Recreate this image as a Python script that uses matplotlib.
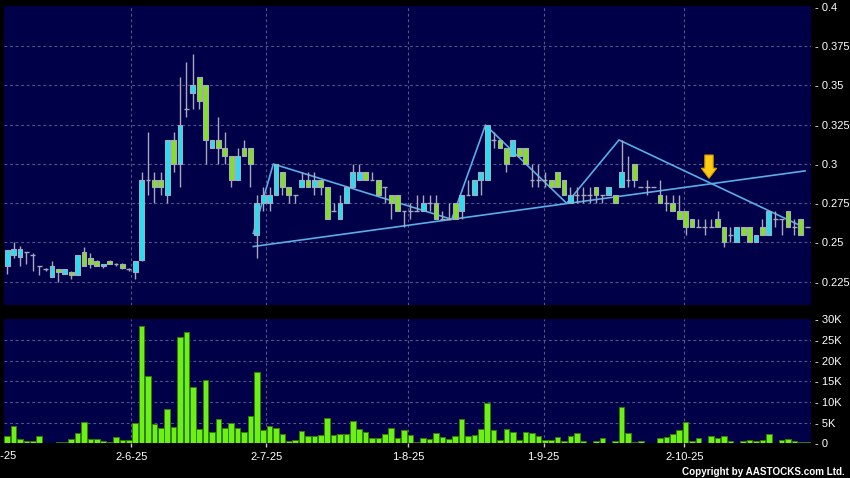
import matplotlib
matplotlib.use('Agg')
import matplotlib.pyplot as plt
from matplotlib.patches import FancyArrow
import numpy as np

# ---------------- data ----------------
opens = [0.235, 0.242, 0.241, 0.244, 0.242, 0.235, 0.233, 0.228, 0.233, 0.230,
         0.231, 0.229, 0.244, 0.240, 0.238, 0.235, 0.238, 0.236, 0.236, 0.233,
         0.231, 0.239, 0.290, 0.290, 0.290, 0.280, 0.315, 0.300, 0.335, 0.345,
         0.355, 0.350, 0.310, 0.315, 0.310, 0.305, 0.290, 0.310, 0.310, 0.255,
         0.275, 0.275, 0.280, 0.295, 0.285, 0.280, 0.285, 0.290, 0.285, 0.290,
         0.285, 0.270, 0.265, 0.275, 0.285, 0.290, 0.295, 0.290, 0.290, 0.285,
         0.280, 0.280, 0.270, 0.270, 0.270, 0.270, 0.275, 0.275, 0.265, 0.265,
         0.275, 0.270, 0.280, 0.280, 0.290, 0.290, 0.315, 0.315, 0.310, 0.305,
         0.310, 0.310, 0.290, 0.290, 0.290, 0.290, 0.295, 0.290, 0.275, 0.280,
         0.280, 0.280, 0.285, 0.280, 0.280, 0.280, 0.285, 0.290, 0.300, 0.285,
         0.285, 0.285, 0.280, 0.275, 0.275, 0.270, 0.270, 0.265, 0.260, 0.260,
         0.260, 0.265, 0.260, 0.255, 0.250, 0.260, 0.260, 0.250, 0.260, 0.255,
         0.265, 0.265, 0.270, 0.260, 0.265, 0.260]
highs = [0.245, 0.250, 0.248, 0.244, 0.243, 0.235, 0.234, 0.238, 0.233, 0.233,
         0.232, 0.242, 0.247, 0.243, 0.239, 0.236, 0.239, 0.237, 0.237, 0.234,
         0.238, 0.295, 0.320, 0.295, 0.295, 0.315, 0.320, 0.355, 0.365, 0.370,
         0.355, 0.350, 0.315, 0.330, 0.320, 0.305, 0.310, 0.315, 0.310, 0.280,
         0.285, 0.285, 0.300, 0.295, 0.285, 0.280, 0.295, 0.295, 0.295, 0.290,
         0.285, 0.275, 0.280, 0.285, 0.300, 0.300, 0.295, 0.295, 0.290, 0.285,
         0.280, 0.280, 0.270, 0.275, 0.280, 0.280, 0.280, 0.280, 0.270, 0.275,
         0.275, 0.280, 0.290, 0.290, 0.295, 0.325, 0.320, 0.315, 0.310, 0.315,
         0.310, 0.310, 0.300, 0.300, 0.295, 0.290, 0.295, 0.290, 0.285, 0.285,
         0.285, 0.285, 0.285, 0.280, 0.285, 0.280, 0.315, 0.305, 0.300, 0.285,
         0.290, 0.285, 0.290, 0.280, 0.280, 0.280, 0.270, 0.265, 0.265, 0.265,
         0.265, 0.270, 0.260, 0.260, 0.260, 0.260, 0.260, 0.255, 0.265, 0.270,
         0.270, 0.265, 0.270, 0.265, 0.265, 0.260]
lows = [0.230, 0.240, 0.235, 0.236, 0.232, 0.229, 0.232, 0.228, 0.225, 0.230,
        0.227, 0.229, 0.235, 0.234, 0.235, 0.234, 0.236, 0.235, 0.233, 0.232,
        0.227, 0.238, 0.280, 0.275, 0.280, 0.275, 0.295, 0.285, 0.330, 0.335,
        0.335, 0.300, 0.310, 0.300, 0.300, 0.285, 0.290, 0.305, 0.285, 0.240,
        0.270, 0.270, 0.280, 0.280, 0.275, 0.275, 0.285, 0.285, 0.280, 0.280,
        0.265, 0.270, 0.265, 0.275, 0.285, 0.290, 0.290, 0.290, 0.280, 0.275,
        0.265, 0.270, 0.260, 0.265, 0.270, 0.270, 0.270, 0.265, 0.265, 0.265,
        0.265, 0.265, 0.280, 0.280, 0.280, 0.290, 0.310, 0.310, 0.295, 0.305,
        0.305, 0.300, 0.285, 0.285, 0.285, 0.285, 0.285, 0.280, 0.275, 0.275,
        0.275, 0.275, 0.275, 0.275, 0.280, 0.275, 0.285, 0.285, 0.285, 0.285,
        0.280, 0.285, 0.275, 0.270, 0.270, 0.265, 0.255, 0.260, 0.260, 0.255,
        0.260, 0.260, 0.247, 0.250, 0.250, 0.255, 0.250, 0.250, 0.255, 0.255,
        0.260, 0.255, 0.260, 0.255, 0.255, 0.260]
closes = [0.245, 0.246, 0.246, 0.244, 0.242, 0.235, 0.233, 0.235, 0.231, 0.233,
          0.229, 0.242, 0.235, 0.236, 0.235, 0.236, 0.236, 0.236, 0.234, 0.233,
          0.238, 0.290, 0.290, 0.285, 0.285, 0.315, 0.300, 0.325, 0.335, 0.350,
          0.340, 0.315, 0.315, 0.310, 0.305, 0.290, 0.305, 0.305, 0.300, 0.275,
          0.280, 0.280, 0.300, 0.285, 0.280, 0.280, 0.290, 0.285, 0.290, 0.285,
          0.265, 0.270, 0.275, 0.285, 0.295, 0.295, 0.290, 0.290, 0.280, 0.285,
          0.275, 0.270, 0.270, 0.270, 0.270, 0.275, 0.275, 0.265, 0.265, 0.265,
          0.265, 0.280, 0.280, 0.290, 0.295, 0.325, 0.315, 0.310, 0.300, 0.315,
          0.305, 0.300, 0.290, 0.290, 0.290, 0.285, 0.285, 0.280, 0.280, 0.280,
          0.280, 0.280, 0.280, 0.280, 0.285, 0.275, 0.295, 0.290, 0.290, 0.285,
          0.285, 0.285, 0.275, 0.275, 0.270, 0.265, 0.260, 0.260, 0.260, 0.260,
          0.260, 0.260, 0.250, 0.255, 0.260, 0.255, 0.250, 0.255, 0.255, 0.270,
          0.265, 0.265, 0.260, 0.260, 0.255, 0.260]
volumes = [1850, 4200, 1000, 560, 560, 1700, 100, 100, 250, 400,
           1100, 2500, 5100, 1100, 1000, 560, 250, 1500, 800, 800,
           4800, 28500, 16400, 4600, 3700, 8300, 4000, 25800, 26900, 13600,
           3500, 15200, 2700, 6000, 3700, 4800, 3600, 2800, 6600, 17200,
           3300, 4200, 3800, 2200, 560, 900, 3000, 1850, 1800, 2000,
           6100, 1900, 2300, 2300, 5500, 3400, 2700, 1300, 1200, 2300,
           3600, 1300, 3100, 2000, 300, 1200, 1000, 2400, 1600, 1000,
           1800, 5800, 1800, 2000, 3500, 9700, 3100, 800, 3400, 2700,
           700, 2700, 2600, 1700, 900, 900, 1500, 560, 1850, 2400,
           500, 50, 600, 1400, 150, 600, 8700, 2500, 400, 650,
           150, 150, 1250, 1600, 2200, 3200, 5200, 500, 1300, 150,
           1800, 1250, 1800, 650, 150, 650, 800, 650, 800, 2300,
           150, 800, 1100, 500, 250, 200]

date_tick_pos = [19.4, 40.5, 62.6, 83.8, 105.8]
date_tick_labels = ['2-6-25', '2-7-25', '1-8-25', '1-9-25', '2-10-25']
first_date_label = '2-5-25'
first_date_pos = -1.1

price_ticks = [0.225, 0.25, 0.275, 0.3, 0.325, 0.35, 0.375, 0.4]
price_tick_labels = ['0.225', '0.25', '0.275', '0.3', '0.325', '0.35', '0.375', '0.4']
vol_ticks = [0, 5000, 10000, 15000, 20000, 25000, 30000]
vol_tick_labels = ['0', '5K', '10K', '15K', '20K', '25K', '30K']

# drawn trend lines (bar index, price)
support_x = [38.45, 124.66]
support_y = [0.2474, 0.2955]
zigzag_x = [38.45, 41.58, 69.45, 74.73, 87.42, 95.6, 124.4]
zigzag_y = [0.2558, 0.2999, 0.2647, 0.3247, 0.2749, 0.3152, 0.2598]
arrow_x = 109.66
arrow_top = 0.3056
arrow_tip = 0.2908

# ---------------- styling ----------------
BG = '#000048'
GRID = '#55558c'
UP_FILL = '#26def0'
DN_FILL = '#84e022'
EDGE = '#a8a8c0'
WICK = '#a8a8bc'
LINE = '#58aee6'
VOL_FILL = '#6cf016'
VOL_EDGE = '#2f7f08'
FONT = ['Liberation Sans', 'DejaVu Sans']
plt.rcParams['font.family'] = FONT

W, H = 850, 478
fig = plt.figure(figsize=(W / 100, H / 100), dpi=100, facecolor='black')
left_px, right_px = 4, 810.7
ax1 = fig.add_axes([left_px / W, 1 - 305 / H, (right_px - left_px) / W, (305 - 6) / H])
ax2 = fig.add_axes([left_px / W, 1 - 443.3 / H, (right_px - left_px) / W, (443.3 - 319.3) / H])

n = len(closes)
x = np.arange(n)
o = np.array(opens); h = np.array(highs); l = np.array(lows); c = np.array(closes)

for ax in (ax1, ax2):
    ax.set_facecolor(BG)
    for s in ax.spines.values():
        s.set_visible(False)
    ax.set_xlim(-0.5, 125.55)
    for tp in date_tick_pos:
        ax.axvline(tp, color=GRID, lw=0.8, dashes=(2.5, 2.5), zorder=0.5)

# price panel
ax1.set_ylim(0.2102, 0.4004)
for pt in price_ticks[:-1]:
    ax1.axhline(pt, color=GRID, lw=0.8, dashes=(2.5, 2.5), zorder=0.5)

ax1.plot(support_x, support_y, color=LINE, lw=1.2, zorder=1.5)
ax1.plot(zigzag_x, zigzag_y, color=LINE, lw=1.2, zorder=1.5)

ax1.vlines(x, l, h, color=WICK, lw=1.0, zorder=2)
doji = o == c
up = (c > o)
dn = (c < o)
bw = 0.75
ax1.bar(x[up], (c - o)[up], bottom=o[up], width=bw, color=UP_FILL,
        edgecolor=EDGE, linewidth=0.8, zorder=3)
ax1.bar(x[dn], (o - c)[dn], bottom=c[dn], width=bw, color=DN_FILL,
        edgecolor=EDGE, linewidth=0.8, zorder=3)
ax1.hlines(o[doji], x[doji] - bw / 2, x[doji] + bw / 2, color=WICK, lw=1.0, zorder=3)

arr = FancyArrow(arrow_x, arrow_top, 0, arrow_tip - arrow_top, width=1.3,
                 head_width=2.4, head_length=0.0064, length_includes_head=True,
                 facecolor='#ffcc14', edgecolor='#d99a00', linewidth=0.8, zorder=4)
ax1.add_patch(arr)

ax1.yaxis.tick_right()
ax1.set_yticks(price_ticks)
ax1.set_yticklabels(['- ' + t for t in price_tick_labels])
ax1.tick_params(axis='y', length=0, pad=3, labelsize=8, labelcolor='white')
ax1.set_xticks([])

# volume panel
ax2.set_ylim(0, 30000)
for vt in vol_ticks[1:-1]:
    ax2.axhline(vt, color=GRID, lw=0.8, dashes=(2.5, 2.5), zorder=0.5)
ax2.bar(x, volumes, width=0.86, color=VOL_FILL, edgecolor=VOL_EDGE, linewidth=0.7, zorder=2)
ax2.yaxis.tick_right()
ax2.set_yticks(vol_ticks)
ax2.set_yticklabels(['- ' + t for t in vol_tick_labels])
ax2.tick_params(axis='y', length=0, pad=3, labelsize=8, labelcolor='white')
ax2.set_xticks(date_tick_pos)
ax2.set_xticklabels(date_tick_labels)
ax2.tick_params(axis='x', length=3, width=1, color='#c8c8c8', pad=3,
                labelsize=8, labelcolor='white', direction='out')
ax2.text(first_date_pos, -0.1, first_date_label, transform=ax2.get_xaxis_transform(),
         ha='center', va='center', color='white', fontsize=8, clip_on=False)

fig.text(845 / W, 1 - 472 / H, 'Copyright by AASTOCKS.com Ltd.', ha='right', va='center',
         color='white', fontsize=7.1, fontweight='bold')

fig.savefig('out.png', dpi=100, facecolor='black')
